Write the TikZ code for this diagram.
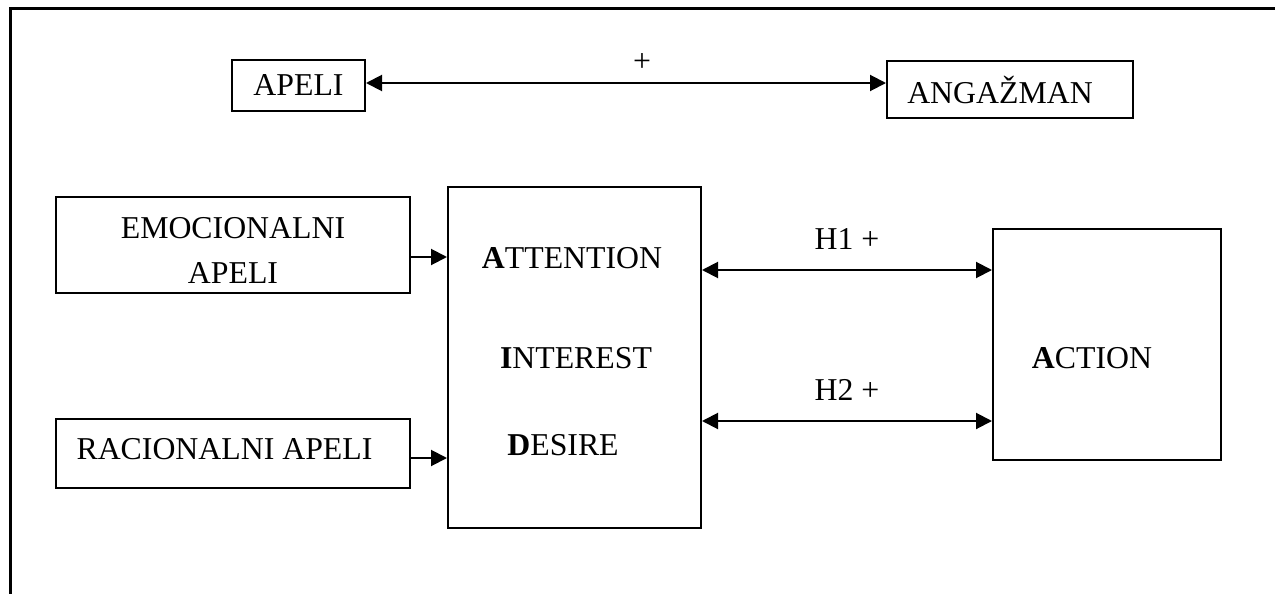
\documentclass[tikz,border=0pt]{standalone}
\usepackage{fontspec}
\setmainfont{Liberation Serif}
\usetikzlibrary{arrows.meta}
\begin{document}
\begin{tikzpicture}[x=0.5pt,y=-0.5pt,
  every node/.style={font=\fontsize{15.9pt}{22.5pt}\selectfont},
  box/.style={draw,line width=1pt,inner sep=0pt,align=center},
  lbl/.style={inner sep=0pt,align=center},
  conn/.style={line width=1pt,-{Triangle[length=8pt,width=8pt]}},
  dconn/.style={line width=1pt,{Triangle[length=8pt,width=8pt]}-{Triangle[length=8pt,width=8pt]}}]
\useasboundingbox (0,0) rectangle (1275,594);
\draw[line width=1.5pt] (10,594) -- (10,8.5) -- (1275,8.5);
% boxes
\node[box,minimum width=66.5pt,minimum height=25.5pt] (apeli) at (298.5,85.5) {APELI};
\node[box,minimum width=123pt,minimum height=28.5pt] (angaz) at (1010,89.5) {};
\node[lbl] (angazt) at (1000,90) {ANGAŽMAN};
\node[box,minimum width=177pt,minimum height=48pt] (emo) at (233,245) {};
\node[lbl] (emot) at (233,250) {EMOCIONALNI\\APELI};
\node[box,minimum width=177pt,minimum height=34.5pt] (rac) at (233,453.5) {};
\node[lbl] (ract) at (224.5,449) {RACIONALNI APELI};
\node[box,minimum width=126.5pt,minimum height=170.5pt] (aid) at (574.5,357.5) {};
\node[lbl] (att) at (572,258) {\textbf{A}TTENTION};
\node[lbl] (int) at (576,358) {\textbf{I}NTEREST};
\node[lbl] (des) at (563,445) {\textbf{D}ESIRE};
\node[box,minimum width=114pt,minimum height=115.5pt] (action) at (1107,344.5) {};
\node[lbl] (actt) at (1092,358) {\textbf{A}CTION};
% labels
\node[lbl] (plus) at (642,63) {+};
% connectors
\draw[dconn] (apeli.east |- 0,83) -- (angaz.west |- 0,83);
\draw[conn] (emo.east |- 0,257) -- (aid.west |- 0,257);
\draw[conn] (rac.east |- 0,458) -- (aid.west |- 0,458);
\draw[dconn] (aid.east |- 0,270) -- (action.west |- 0,270) node[lbl,midway,above=10pt] (h1) {H1 +};
\draw[dconn] (aid.east |- 0,421) -- (action.west |- 0,421) node[lbl,midway,above=10pt] (h2) {H2 +};
\end{tikzpicture}
\end{document}
